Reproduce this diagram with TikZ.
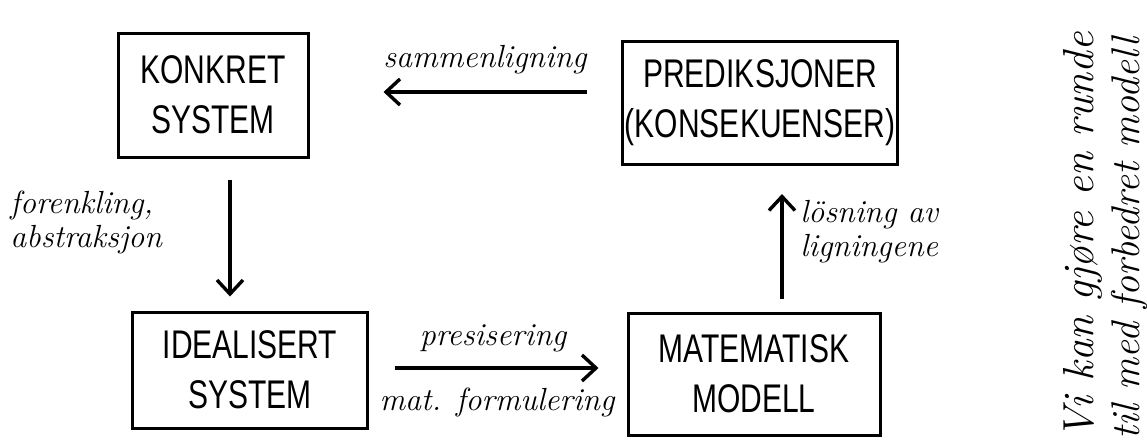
\documentclass[tikz,border=0pt]{standalone}
\usepackage{fontspec}
\usetikzlibrary{arrows.meta}
\newfontfamily\capsfont[FakeStretch=0.75]{Liberation Sans}
\begin{document}
\begin{tikzpicture}[x=0.5pt,y=-0.5pt,
  box/.style={draw,line width=1.5pt,inner sep=0pt,align=center,
    font=\capsfont\fontsize{20}{25}\selectfont},
  arr/.style={line width=1.7pt,-{Straight Barb[length=7pt,width=13pt]}},
  lbl/.style={inner sep=0pt,font=\itshape\fontsize{16}{17}\selectfont},
  side/.style={inner sep=0pt,rotate=90,anchor=west,font=\itshape\fontsize{20}{22}\selectfont}]
\useasboundingbox (0,0) rectangle (1147,446);
\node[box,minimum width=95pt,minimum height=62pt] (K) at (213,95) {KONKRET\\SYSTEM};
\node[box,minimum width=137.5pt,minimum height=61.5pt] (P) at (760,103) {PREDIKSJONER\\(KONSEKUENSER)};
\node[box,minimum width=117.5pt,minimum height=58pt] (I) at (250,370) {IDEALISERT\\SYSTEM};
\node[box,minimum width=126pt,minimum height=61pt] (M) at (754,374) {MATEMATISK\\MODELL};
% connectors
\draw[arr,shorten <=17.25pt,shorten >=37pt] ([yshift=5.5pt]P.west) -- ([yshift=1.5pt]K.east);
\draw[arr,shorten <=10.5pt,shorten >=7pt] ([xshift=8.5pt]K.south) -- ([xshift=-10pt]I.north);
\draw[arr,shorten <=12.75pt,shorten >=14pt] ([yshift=1pt]I.east) -- ([yshift=3pt]M.west);
\draw[arr,shorten <=6.5pt,shorten >=14pt] ([xshift=14pt]M.north) -- ([xshift=11pt]P.south);
% labels
\node[lbl] (l1) at (485,60) {sammenligning};
\node[lbl,anchor=west,align=left] (l2) at (10,222) {forenkling,\\abstraksjon};
\node[lbl,anchor=west,align=left] (l3) at (800,232) {lösning av\\ligningene};
\node[lbl] (l4) at (493,338) {presisering};
\node[lbl] (l5) at (497,402) {mat. formulering};
\node[side,font=\itshape\fontsize{21.7}{23}\selectfont] (s1) at (1083,440) {Vi kan gjøre en runde};
\node[side] (s2) at (1129,440) {til med forbedret modell};
\end{tikzpicture}
\end{document}
